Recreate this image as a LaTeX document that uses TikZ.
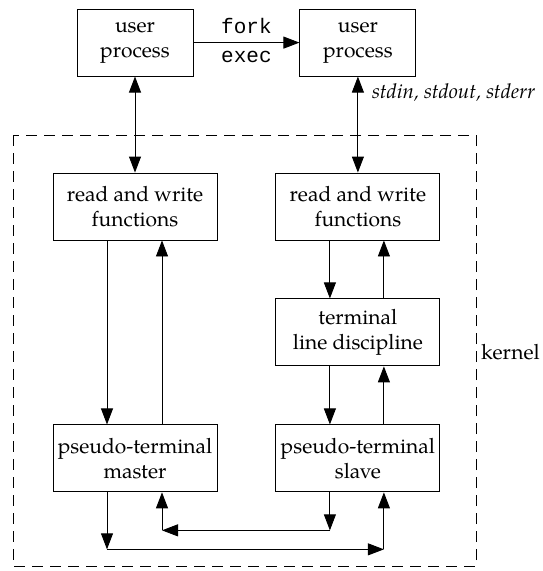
\documentclass[tikz,border=0pt]{standalone}
\usepackage{fontspec}
\setmainfont{texgyrepagella}[Extension=.otf, UprightFont=*-regular, ItalicFont=*-italic, BoldFont=*-bold]
\newfontfamily\codefont{Liberation Mono}
\usetikzlibrary{arrows.meta, positioning, calc}

\begin{document}
\begin{tikzpicture}[
  x=1pt, y=-1pt,
  node distance=58pt and 58pt,
  box/.style={rectangle, draw, line width=0.9pt, inner sep=0pt, align=center,
              minimum width=164pt, minimum height=67pt,
              font=\fontsize{21}{25}\selectfont},
  ubox/.style={box, minimum width=116pt},
  lbl/.style={inner sep=0pt, font=\fontsize{21}{25}\selectfont},
  code/.style={inner sep=0pt, font=\codefont\fontsize{21}{25}\selectfont},
  arr/.style={-{Triangle[length=16pt,width=12pt]}, line width=0.9pt},
  biarr/.style={{Triangle[length=16pt,width=12pt]}-{Triangle[length=16pt,width=12pt]}, line width=0.9pt}
]
  \useasboundingbox (0,0) rectangle (543,571);
  % kernel boundary
  \draw[dash pattern=on 11pt off 7pt, line width=0.9pt] (13,135) rectangle (476,566);
  \node[lbl, anchor=west] (kern) at (481,352) {kernel};

  \node[box] (rwL) at (135,206.5) {read and write\\functions};
  \node[box, right=of rwL] (rwR) {read and write\\functions};
  \node[box, below=of rwR] (tld) {terminal\\line discipline};
  \node[box, below=184pt of rwL] (master) {pseudo-terminal\\master};
  \node[box, right=of master] (slave) {pseudo-terminal\\slave};
  \node[ubox, above=96pt of rwL] (upL) {user\\process};
  \node[ubox, above=96pt of rwR] (upR) {user\\process};
  \node[lbl, anchor=west, font=\itshape\fontsize{20.5}{25}\selectfont] (std) at (372,92) {stdin, stdout, stderr};

  \draw[arr] (upL) -- node[code, above=8pt] {fork} node[code, below=8pt] {exec} (upR);
  \draw[biarr] (upL) -- (rwL);
  \draw[biarr] (upR) -- (rwR);

  % left column
  \draw[arr] ([xshift=-28pt]rwL.south) -- ([xshift=-28pt]master.north);
  \draw[arr] ([xshift=27pt]master.north) -- ([xshift=27pt]rwL.south);
  % right column
  \draw[arr] ([xshift=-28pt]rwR.south) -- ([xshift=-28pt]tld.north);
  \draw[arr] ([xshift=26pt]tld.north) -- ([xshift=26pt]rwR.south);
  \draw[arr] ([xshift=-28pt]tld.south) -- ([xshift=-28pt]slave.north);
  \draw[arr] ([xshift=26pt]slave.north) -- ([xshift=26pt]tld.south);

  % master <-> slave
  \coordinate (mout) at ([xshift=-28pt]master.south);
  \coordinate (min) at ([xshift=27pt]master.south);
  \coordinate (sout) at ([xshift=-28pt]slave.south);
  \coordinate (sin) at ([xshift=26pt]slave.south);
  \coordinate (m1) at ([yshift=-57pt]mout);
  \coordinate (m2) at (m1 -| sin);
  \coordinate (s1) at ([yshift=-38pt]sout);
  \coordinate (s2) at (s1 -| min);
  \draw[arr] (mout) -- (m1);
  \draw[arr] (m1) -- (m2);
  \draw[arr] (m2) -- (sin);
  \draw[arr] (sout) -- (s1);
  \draw[arr] (s1) -- (s2);
  \draw[arr] (s2) -- (min);
\end{tikzpicture}
\end{document}
